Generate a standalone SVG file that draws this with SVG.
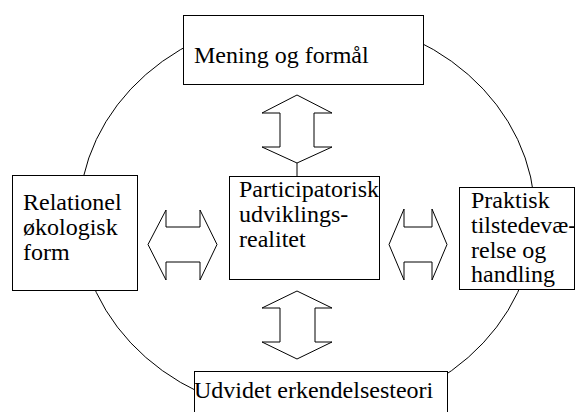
<svg xmlns="http://www.w3.org/2000/svg" width="575" height="412" viewBox="0 0 575 412">
<style>
.bg{fill:#fff}
.box{fill:#fff;stroke:#000;stroke-width:1}
.arr{fill:#fff;stroke:#000;stroke-width:1}
.ln{fill:none;stroke:#000;stroke-width:1}
.t{font-family:'Liberation Serif','DejaVu Serif',serif;font-size:24px;fill:#000}
</style>
<rect class="bg" x="0" y="0" width="575" height="412"/>
<g id="connectors">
<ellipse class="ln" cx="307" cy="216" rx="228" ry="200"/>
<polygon class="arr" points="297,95 332,113 314,113 314,147 332,147 297,163 262,147 280,147 280,113 262,113"/>
<line class="ln" x1="297" y1="163" x2="297" y2="176"/>
<polygon class="arr" points="297,291 332,308 315,308 315,342 332,342 297,359 262,342 280,342 280,308 262,308"/>
<polygon class="arr" points="148,244.5 166,210 166,227 200,227 200,210 217,244.5 200,280 200,262 166,262 166,280"/>
<polygon class="arr" points="389,244.5 404,209 404,227 432,227 432,209 447,244.5 432,280 432,262 404,262 404,280"/>
</g>
<g id="mening" class="t">
<rect class="box" x="183.5" y="15.5" width="240" height="69"/>
<text x="194" y="63">Mening og formål</text>
</g>
<g id="relationel" class="t">
<rect class="box" x="12.5" y="175.5" width="125" height="115"/>
<text x="23" y="210">Relationel</text>
<text x="23" y="235">økologisk</text>
<text x="23" y="260">form</text>
</g>
<g id="participatorisk" class="t">
<rect class="box" x="229.5" y="176.5" width="150" height="103"/>
<text x="239" y="197">Participatorisk</text>
<text x="239" y="222">udviklings-</text>
<text x="239" y="247">realitet</text>
</g>
<g id="praktisk" class="t">
<rect class="box" x="459.5" y="187.5" width="115" height="102"/>
<text x="471" y="208">Praktisk</text>
<text x="471" y="233">tilstedevæ-</text>
<text x="471" y="257.5">relse og</text>
<text x="471" y="282">handling</text>
</g>
<g id="udvidet" class="t">
<rect class="box" x="194.5" y="371.5" width="253" height="60"/>
<text x="194" y="398">Udvidet erkendelsesteori</text>
</g>
</svg>
